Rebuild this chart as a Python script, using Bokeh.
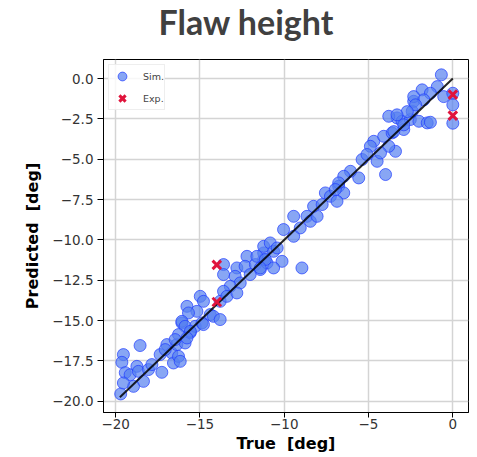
from bokeh.plotting import figure
from bokeh.models import FixedTicker, CustomJSTickFormatter, Range1d, Legend, LegendItem, Title
from bokeh.embed import file_html
from bokeh.resources import INLINE

title_text = "Flaw height"

sim_true = [-19.70, -19.54, -19.63, -18.55, -19.43, -19.14, -18.74, -18.65, -18.35, -18.94,
            -19.54, -18.05, -17.26, -17.85, -17.36, -16.96, -16.67, -16.57, -16.27, -16.17,
            -16.37, -15.88, -16.07, -15.57, -15.28, -14.88, -17.06,
            -13.60, -13.60, -12.81, -12.21, -12.32, -11.71, -11.22, -11.42, -12.02, -12.91,
            -12.61, -13.20, -13.60, -13.80, -13.40, -14.98, -14.79, -15.77, -15.18, -15.68,
            -16.07, -15.88, -14.39, -14.20, -13.80, -14.79, -16.27, -16.47, -15.57, -15.77,
            -11.22, -11.02, -12.81,
            -8.95, -10.13, -10.04, -9.44, -9.05, -9.44, -8.65, -8.45, -8.05, -8.26,
            -7.75, -7.56, -7.26, -6.77, -6.47, -6.87, -11.22, -10.83, -10.63, -11.62,
            -11.12, -10.63, -11.42, -10.42,
            -3.99, -4.49, -3.40, -3.80, -4.69, -4.89, -4.10, -3.60, -2.91, -3.31,
            -3.80, -3.01, -2.52, -2.41, -2.01, -1.52, -2.32, -5.38, -5.58, -6.07,
            -6.47, -6.77, -6.97, -5.09, -4.29,
            -0.68, -0.92, -1.82, -1.33, -2.32, -1.72, -0.54, 0.0, 0.0, 0.0,
            -1.33, -2.21, -2.70, -2.91, -3.31, -3.50]
sim_pred = [-19.55, -17.11, -17.59, -16.55, -18.23, -18.36, -17.84, -18.15, -18.77, -19.08,
            -18.87, -18.04, -18.21, -17.73, -17.11, -16.49, -17.01, -17.63, -17.22, -17.53,
            -16.49, -16.39, -15.15, -15.75, -15.36, -15.15, -16.80,
            -11.53, -12.15, -11.74, -11.02, -11.64, -11.53, -11.22, -11.84, -12.15, -12.26,
            -12.67, -12.88, -13.19, -13.81, -13.50, -13.50, -13.81, -14.12, -14.43, -14.53,
            -15.05, -15.36, -14.63, -14.74, -14.94, -15.25, -15.87, -16.18, -15.67, -16.08,
            -10.81, -11.43, -13.29,
            -11.74, -11.33, -9.36, -8.54, -9.26, -9.78, -8.54, -8.85, -8.54, -7.92,
            -7.81, -7.09, -7.30, -6.68, -7.09, -7.61, -10.40, -10.19, -10.71, -11.02,
            -11.22, -11.74, -11.74, -10.50,
            -5.95, -5.13, -4.51, -4.20, -3.89, -4.20, -3.58, -3.37, -3.16, -2.44,
            -2.34, -2.65, -2.54, -2.03, -2.65, -2.75, -1.41, -5.02, -6.16, -5.75,
            -6.06, -6.47, -6.88, -4.71, -4.61,
            0.23, -0.50, -0.70, -0.91, -1.12, -1.32, -1.12, -0.91, -1.63, -2.77,
            -2.71, -1.63, -2.05, -2.87, -2.25, -3.29]

exp_true = [-14.0, -14.0, 0.0, 0.0]
exp_pred = [-11.55, -13.85, -1.0, -2.3]

ideal = [-19.75, 0.0]

y_ticks = [0.0, -2.5, -5.0, -7.5, -10.0, -12.5, -15.0, -17.5, -20.0]
x_ticks = [-20, -15, -10, -5, 0]

p = figure(frame_width=365, frame_height=353,
           min_border_left=103, min_border_right=4, min_border_top=58, min_border_bottom=43,
           x_range=Range1d(-20.72, 0.93), y_range=Range1d(-20.70, 1.18),
           output_backend="svg", toolbar_location=None, title=None)

# spacer between title and frame (nearest to the frame), then the title itself
p.add_layout(Title(text=" ", text_font_size="1px", standoff=13), "above")
p.add_layout(Title(text=title_text, text_font="Lato", text_font_size="34px",
                   text_font_style="bold", text_color="#404040", align="left",
                   offset=55, standoff=0, vertical_align="top"), "above")

r_sim = p.scatter(sim_true, sim_pred, marker="circle", size=12,
                  fill_color="#5580f0", fill_alpha=0.7, line_color="#1f3cff", line_alpha=0.7, line_width=1)
p.line(ideal, ideal, line_color="black", line_width=2, line_alpha=0.85)
r_exp = p.scatter(exp_true, exp_pred, marker="x", size=12, line_color="#e0143c", line_width=3)

legend = Legend(items=[LegendItem(label="Sim.", renderers=[r_sim]),
                       LegendItem(label="Exp.", renderers=[r_exp])],
                location="top_left")
legend.label_text_font = "DejaVu Sans"
legend.label_text_font_size = "9.5px"
legend.label_height = 10
legend.glyph_height = 22
legend.glyph_width = 26
legend.spacing = -9
legend.padding = 0
legend.margin = 5
legend.label_standoff = 8
legend.border_line_color = "#dddddd"
legend.background_fill_alpha = 0.8
p.add_layout(legend)

p.xaxis.ticker = FixedTicker(ticks=x_ticks)
p.yaxis.ticker = FixedTicker(ticks=y_ticks)
p.xaxis.formatter = CustomJSTickFormatter(code="return tick.toFixed(0).replace('-', '\u2212');")
p.yaxis.formatter = CustomJSTickFormatter(code="return tick.toFixed(1).replace('-', '\u2212');")

for ax in (p.xaxis, p.yaxis):
    ax.major_label_text_font = "DejaVu Sans"
    ax.major_label_text_font_size = "13.5px"
    ax.major_label_text_color = "#333333"
    ax.axis_label_text_font = "DejaVu Sans"
    ax.axis_label_text_font_size = "16px"
    ax.axis_label_text_font_style = "bold"
    ax.axis_label_text_color = "black"
    ax.minor_tick_line_color = None
    ax.major_tick_in = 0
    ax.major_tick_line_color = "black"
    ax.axis_line_color = "black"

p.xaxis.major_tick_out = 5
p.xaxis.major_label_standoff = 1
p.xaxis.axis_label_standoff = 2
p.yaxis.major_tick_out = 6
p.yaxis.major_label_standoff = 4
p.yaxis.axis_label_standoff = 7

p.xaxis.axis_label = "True\u00a0\u00a0[deg]"
p.yaxis.axis_label = "Predicted\u00a0\u00a0[deg]"

p.grid.grid_line_color = "#d4d4d4"
p.grid.grid_line_width = 1.5
p.outline_line_color = "black"
p.outline_line_alpha = 1
p.outline_line_width = 1

open("out.html", "w").write(file_html(p, INLINE))
